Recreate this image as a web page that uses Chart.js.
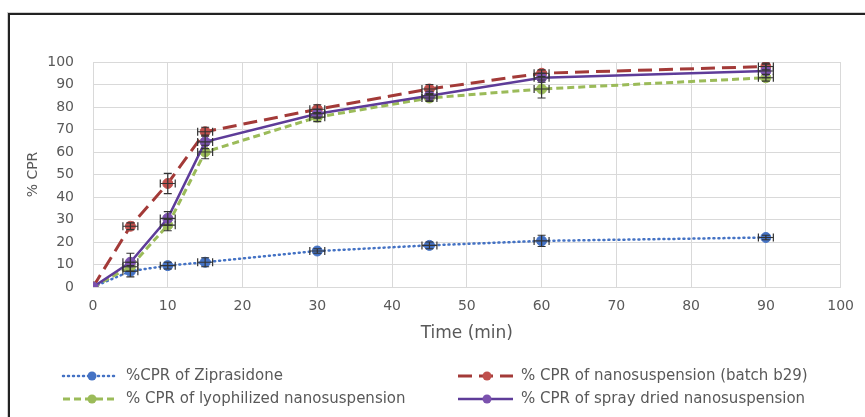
<!DOCTYPE html>
<html>
<head>
<meta charset="utf-8">
<script src="https://cdn.jsdelivr.net/npm/chart.js@4/dist/chart.umd.min.js"></script>
<style>
  body { margin: 0; background: #fff; }
  #wrap { position: relative; width: 865px; height: 417px; overflow: hidden; }
  #frame { position: absolute; left: 8px; top: 13px; width: 900px; height: 450px;
           border-left: 2px solid #222; border-top: 2px solid #222;
           box-shadow: -1px -1px 0 #cfcfcf; }
  #chart { position: absolute; left: 0; top: 0; }
</style>
</head>
<body>
<div id="wrap">
  <div id="frame"></div>
  <canvas id="chart" width="865" height="417"></canvas>
</div>
<script>
// time points (min)
const timeMin = [0, 5, 10, 15, 30, 45, 60, 90];

// % CPR per formulation
const cprZiprasidone = [0, 7, 9.5, 11, 16, 18.5, 20.5, 22];
const cprBatchB29 = [0, 27, 46, 69, 79, 88, 95, 98];
const cprLyophilized = [0, 9, 27.5, 60, 75.5, 84, 88, 93];
const cprSprayDried = [0, 11, 30.5, 64.5, 77, 85, 93, 96];

// error bars (+/-)
const errZiprasidone = [0, 2.5, 1.5, 2, 1, 1.5, 2.5, 1];
const errBatchB29 = [0, 1.5, 4.5, 2, 2, 2, 1.5, 1.5];
const errLyophilized = [0, 2, 2.5, 3, 2, 1.5, 4, 1.5];
const errSprayDried = [0, 4, 3, 3, 2, 2, 2, 3];
const errTime = 1;

const tickValues = [0, 10, 20, 30, 40, 50, 60, 70, 80, 90, 100];

const FONT = "'DejaVu Sans', sans-serif";
const TEXT = '#595959';

function pts(ys){
    return timeMin.map(function(t, i){ return {x: t, y: ys[i]}; });
}

const series = [
    {label: '%CPR of Ziprasidone', data: pts(cprZiprasidone), err: errZiprasidone,
     line: '#4472C4', point: '#4472C4', dash: [1, 4], width: 2.5, cap: 'round', order: 4},
    {label: '% CPR of nanosuspension (batch b29)', data: pts(cprBatchB29), err: errBatchB29,
     line: '#A33A38', point: '#C0504D', dash: [14, 7], width: 3, cap: 'butt', order: 3},
    {label: '% CPR of lyophilized nanosuspension', data: pts(cprLyophilized), err: errLyophilized,
     line: '#9BBB59', point: '#9BBB59', dash: [7, 4], width: 3, cap: 'butt', order: 2},
    {label: '% CPR of spray dried nanosuspension', data: pts(cprSprayDried), err: errSprayDried,
     line: '#5E3C99', point: '#7B52AE', dash: [], width: 2.5, cap: 'butt', order: 1}
];

const datasets = series.map(function(s){
    return {
        label: s.label, data: s.data, err: s.err, order: s.order,
        showLine: true, tension: 0,
        borderColor: s.line, borderWidth: s.width, borderDash: s.dash, borderCapStyle: s.cap,
        pointRadius: 5, pointBackgroundColor: s.point, pointBorderColor: s.point, pointBorderWidth: 1
    };
});

// x and y error bars with caps
const errorBars = {
    id: 'errorBars',
    afterDatasetsDraw(chart){
        const ctx = chart.ctx, xs = chart.scales.x, ys = chart.scales.y;
        ctx.save();
        ctx.strokeStyle = '#333';
        ctx.lineWidth = 1.2;
        chart.data.datasets.forEach(function(ds){
            ds.data.forEach(function(p, i){
                const e = ds.err[i];
                if (!e && p.x === 0) return;
                const px = xs.getPixelForValue(p.x), py = ys.getPixelForValue(p.y);
                const top = ys.getPixelForValue(p.y + e), bot = ys.getPixelForValue(p.y - e);
                const lx = xs.getPixelForValue(p.x - errTime), rx = xs.getPixelForValue(p.x + errTime);
                ctx.beginPath();
                ctx.moveTo(px, top); ctx.lineTo(px, bot);
                ctx.moveTo(px - 4, top); ctx.lineTo(px + 4, top);
                ctx.moveTo(px - 4, bot); ctx.lineTo(px + 4, bot);
                ctx.moveTo(lx, py); ctx.lineTo(rx, py);
                ctx.moveTo(lx, py - 4); ctx.lineTo(lx, py + 4);
                ctx.moveTo(rx, py - 4); ctx.lineTo(rx, py + 4);
                ctx.stroke();
            });
        });
        ctx.restore();
    }
};

// excel-style legend: line sample with marker in the middle
const lineLegend = {
    id: 'lineLegend',
    afterDraw(chart){
        const ctx = chart.ctx;
        const spots = [[63, 376], [458, 376], [63, 399], [458, 399]];
        ctx.save();
        series.forEach(function(s, i){
            const x = spots[i][0], y = spots[i][1];
            ctx.beginPath();
            ctx.setLineDash(s.dash);
            ctx.lineCap = s.cap;
            ctx.strokeStyle = s.line;
            ctx.lineWidth = s.width;
            ctx.moveTo(x, y); ctx.lineTo(x + 55, y);
            ctx.stroke();
            ctx.setLineDash([]);
            ctx.beginPath();
            ctx.fillStyle = s.point;
            ctx.arc(x + 29, y, 4.5, 0, Math.PI * 2);
            ctx.fill();
            ctx.fillStyle = TEXT;
            ctx.font = '15px ' + FONT;
            ctx.textBaseline = 'middle';
            ctx.fillText(s.label, x + 63, y);
        });
        ctx.restore();
    }
};

new Chart(document.getElementById('chart').getContext('2d'), {
    type: 'scatter',
    data: {datasets: datasets},
    plugins: [errorBars, lineLegend],
    options: {
        responsive: false,
        animation: false,
        layout: {padding: {left: 14, top: 62, right: 22, bottom: 72}},
        plugins: {legend: {display: false}, tooltip: {enabled: false}},
        scales: {
            x: {
                type: 'linear', min: 0, max: 100,
                afterBuildTicks: function(s){ s.ticks = tickValues.map(function(v){ return {value: v}; }); },
                afterFit: function(s){ s.height = 58; },
                grid: {color: '#d9d9d9', drawTicks: false},
                border: {color: '#d9d9d9'},
                ticks: {padding: 11, color: TEXT, font: {family: FONT, size: 14}},
                title: {display: true, text: 'Time (min)', color: TEXT,
                        font: {family: FONT, size: 17}, padding: {top: 0, bottom: 1}}
            },
            y: {
                min: 0, max: 100,
                afterBuildTicks: function(s){ s.ticks = tickValues.map(function(v){ return {value: v}; }); },
                afterFit: function(s){ s.width = 79; },
                grid: {color: '#d9d9d9', drawTicks: false},
                border: {color: '#d9d9d9'},
                ticks: {padding: 19, color: TEXT, font: {family: FONT, size: 14}},
                title: {display: true, text: '% CPR', color: TEXT,
                        font: {family: FONT, size: 14}, padding: {top: 11, bottom: 0}}
            }
        }
    }
});
</script>
</body>
</html>
